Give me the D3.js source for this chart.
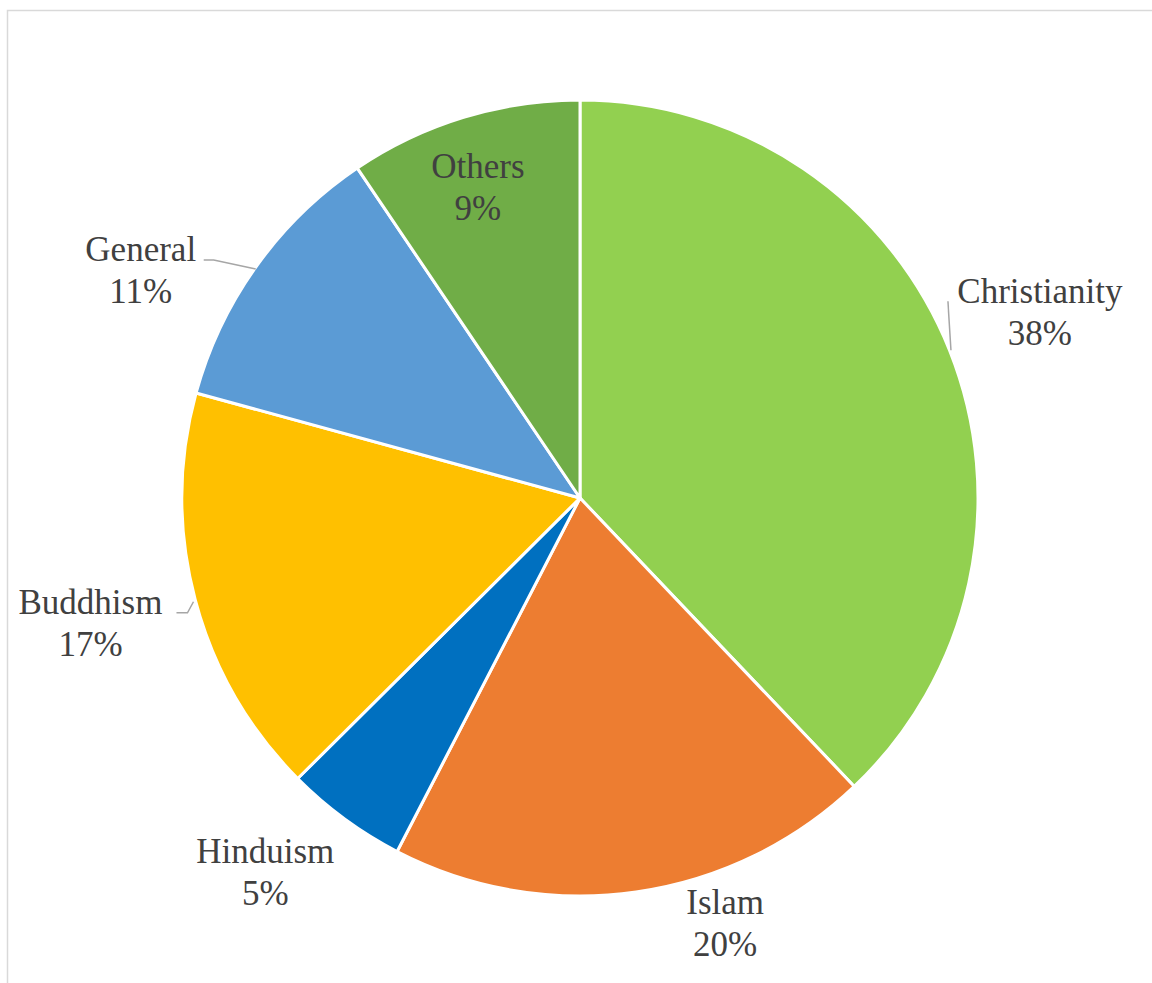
<!DOCTYPE html>
<html>
<head>
<meta charset="utf-8">
<script src="https://cdn.jsdelivr.net/npm/d3@7"></script>
<style>
  body { margin: 0; background: #fff; }
  svg { display: block; }
  .lbl { font-family: "Times New Roman", "Liberation Serif", "DejaVu Serif", serif; }
</style>
</head>
<body>
<div id="chart"></div>
<script>
/**
 * DATA
 * */
const categories = ["Christianity", "Islam", "Hinduism", "Buddhism", "General", "Others"];
const values = [37.9, 19.7, 4.95, 16.7, 11.3, 9.45];
const colors = ["#92d050", "#ed7d31", "#0070c0", "#ffc000", "#5b9bd5", "#70ad47"];

/**
 * LAYOUT
 * */
const width = 1152,
  height = 983,
  cx = 580,
  cy = 498,
  radius = 398;

// label centre in polar form (degrees clockwise from 12 o'clock, distance from centre)
const labelPolar = [
  [69.2, 492], [161.6, 460], [219.3, 497], [254.5, 508], [296.3, 490], [341.2, 317]
];
// leader lines, given relative to the label centre (null = no leader)
const leaders = [
  [[-92, -22], [-89, 27]],
  null,
  null,
  [[86, -21], [97, -21], [103, -32]],
  [[63, -21], [73, -21], [115, -12]],
  null
];

const svg = d3.select("#chart")
  .append("svg")
  .attr("width", width)
  .attr("height", height);

// cropped chart-area border
svg.append("rect")
  .attr("x", 7.5)
  .attr("y", 10.5)
  .attr("width", 1200)
  .attr("height", 1100)
  .attr("fill", "none")
  .attr("stroke", "#d9d9d9")
  .attr("stroke-width", 1.5);

const total = d3.sum(values);
const pct = d3.format(".0%");

const pie = d3.pie().sort(null).value(d => d)(values);
const arc = d3.arc().innerRadius(0).outerRadius(radius);

const g = svg.append("g").attr("transform", `translate(${cx},${cy})`);

g.selectAll("path.slice")
  .data(pie)
  .join("path")
  .attr("class", "slice")
  .attr("d", arc)
  .attr("fill", (d, i) => colors[i])
  .attr("stroke", "#fff")
  .attr("stroke-width", 3)
  .attr("stroke-linejoin", "round");

const labelXY = labelPolar.map(([a, r]) => {
  const t = a * Math.PI / 180;
  return [r * Math.sin(t), -r * Math.cos(t)];
});

// leader lines
g.selectAll("path.leader")
  .data(leaders.map((l, i) => l ? l.map(p => [p[0] + labelXY[i][0], p[1] + labelXY[i][1]]) : null).filter(d => d))
  .join("path")
  .attr("class", "leader")
  .attr("d", d3.line())
  .attr("fill", "none")
  .attr("stroke", "#a6a6a6")
  .attr("stroke-width", 1.5);

const labels = g.selectAll("text.lbl")
  .data(pie)
  .join("text")
  .attr("class", "lbl")
  .attr("text-anchor", "middle")
  .attr("font-size", 35)
  .attr("fill", "#404040")
  .attr("transform", (d, i) => `translate(${labelXY[i][0]},${labelXY[i][1]})`);

labels.append("tspan")
  .attr("x", 0)
  .attr("y", -20)
  .text((d, i) => categories[i]);

labels.append("tspan")
  .attr("x", 0)
  .attr("y", 22)
  .text(d => pct(d.value / total));
</script>
</body>
</html>
